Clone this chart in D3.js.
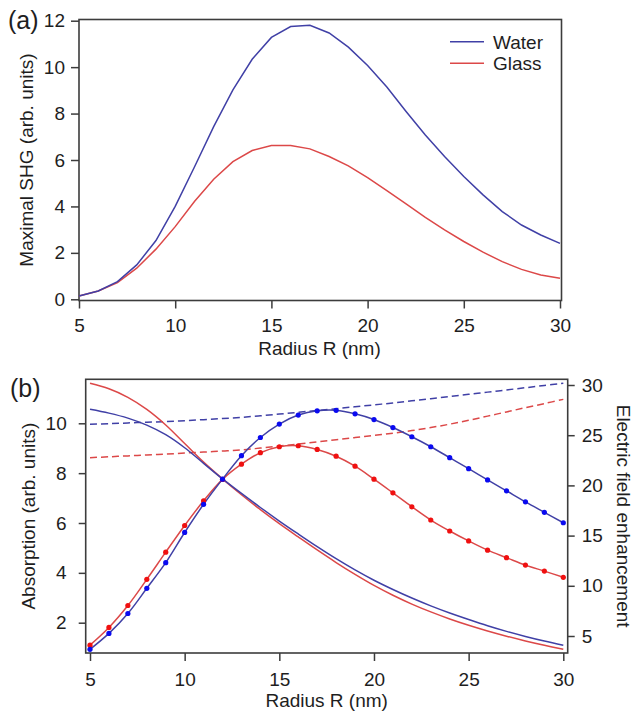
<!DOCTYPE html>
<html>
<head>
<meta charset="utf-8">
<script src="https://cdn.jsdelivr.net/npm/d3@7"></script>
<style>
  html, body { margin: 0; padding: 0; background: #fff; }
  svg { display: block; font-family: "Liberation Sans", Arial, Helvetica, sans-serif; }
</style>
</head>
<body>
<svg id="fig" width="633" height="711"></svg>
<script>
// ---- data -------------------------------------------------------------
const radiusNm = [5, 6, 7, 8, 9, 10, 11, 12, 13, 14, 15, 16, 17, 18, 19, 20, 21, 22, 23, 24, 25, 26, 27, 28, 29, 30];

// (a) maximal SHG signal
const shgWater = [0.14, 0.36, 0.76, 1.48, 2.53, 4.0, 5.7, 7.44, 9.02, 10.34, 11.28, 11.75, 11.8,
                  11.47, 10.86, 10.07, 9.14, 8.09, 7.08, 6.15, 5.29, 4.5, 3.78, 3.2, 2.77, 2.41];
const shgGlass = [0.14, 0.36, 0.72, 1.34, 2.16, 3.13, 4.21, 5.17, 5.93, 6.41, 6.62, 6.62, 6.48,
                  6.15, 5.75, 5.24, 4.68, 4.11, 3.53, 2.99, 2.49, 2.03, 1.62, 1.29, 1.05, 0.91];

// (b) absorption (left axis)
const absWater = [0.93, 1.57, 2.37, 3.38, 4.41, 5.62, 6.75, 7.76, 8.70, 9.43, 9.97, 10.33, 10.50,
                  10.52, 10.38, 10.15, 9.83, 9.46, 9.06, 8.62, 8.18, 7.73, 7.29, 6.85, 6.43, 6.01];
const absGlass = [1.10, 1.81, 2.69, 3.74, 4.83, 5.90, 6.89, 7.75, 8.36, 8.82, 9.06, 9.10, 8.95,
                  8.68, 8.28, 7.76, 7.21, 6.65, 6.12, 5.68, 5.28, 4.91, 4.61, 4.31, 4.07, 3.82];

// (b) electric field enhancement (right axis)
const fieldWater = [27.58, 27.2, 26.7, 26.0, 25.05, 23.75, 22.2, 20.65, 19.2, 17.8, 16.45, 15.16, 13.9,
                    12.7, 11.58, 10.55, 9.63, 8.78, 8.0, 7.29, 6.64, 6.02, 5.46, 4.96, 4.5, 4.08];
const fieldGlass = [30.17, 29.62, 28.77, 27.57, 26.02, 24.17, 22.32, 20.65, 19.07, 17.59, 16.19, 14.87, 13.57,
                    12.32, 11.14, 10.04, 9.06, 8.18, 7.4, 6.7, 6.07, 5.5, 4.98, 4.51, 4.08, 3.68];
const fieldOffWater = [26.09, 26.15, 26.22, 26.29, 26.36, 26.45, 26.55, 26.66, 26.78, 26.93, 27.1, 27.28, 27.46,
                       27.64, 27.83, 28.02, 28.21, 28.42, 28.63, 28.85, 29.07, 29.29, 29.51, 29.73, 29.95, 30.17];
const fieldOffGlass = [22.76, 22.85, 22.94, 23.03, 23.12, 23.22, 23.32, 23.42, 23.53, 23.72, 23.92, 24.12, 24.33,
                       24.54, 24.76, 24.98, 25.2, 25.46, 25.76, 26.1, 26.48, 26.9, 27.32, 27.74, 28.15, 28.57];

const radiusTicks = [5, 10, 15, 20, 25, 30];
const shgTicks = [0, 2, 4, 6, 8, 10, 12];
const absTicks = [2, 4, 6, 8, 10];
const fieldTicks = [5, 10, 15, 20, 25, 30];
const legendLabels = ["Water", "Glass"];

// ---- styling ----------------------------------------------------------
const AXIS = "#3c3c3c";
const TEXT = "#1e1e1e";
const BLUE_LINE = "#4040a6";
const RED_LINE = "#dc4848";
const BLUE_DOT = "#0a0af0";
const RED_DOT = "#f01010";
const FS = 19;

const svg = d3.select("#fig");

function styleAxis(g) {
  g.select(".domain").remove();
  g.selectAll(".tick line").attr("stroke", AXIS).attr("stroke-width", 1.5);
  g.selectAll(".tick text").attr("fill", TEXT).style("font-size", FS + "px");
}

function frame(x0, x1, y0, y1) {
  svg.append("rect")
    .attr("x", x0).attr("y", y0)
    .attr("width", x1 - x0).attr("height", y1 - y0)
    .attr("fill", "none").attr("stroke", AXIS).attr("stroke-width", 1.6);
}

function series(xs, ys, xScale, yScale, color, curve, dash) {
  const line = d3.line()
    .x((d, i) => xScale(xs[i]))
    .y(d => yScale(d))
    .curve(curve);
  const p = svg.append("path")
    .attr("d", line(ys))
    .attr("fill", "none")
    .attr("stroke", color)
    .attr("stroke-width", 1.5);
  if (dash) p.attr("stroke-dasharray", dash);
}

function dots(xs, ys, xScale, yScale, color) {
  svg.append("g").selectAll("circle")
    .data(ys).join("circle")
    .attr("cx", (d, i) => xScale(xs[i]))
    .attr("cy", d => yScale(d))
    .attr("r", 2.6)
    .attr("fill", color);
}

function label(text, x, y, opts = {}) {
  return svg.append("text")
    .attr("transform", `translate(${x},${y})` + (opts.rotate ? ` rotate(${opts.rotate})` : ""))
    .attr("text-anchor", opts.anchor || "start")
    .attr("fill", TEXT)
    .style("font-size", (opts.size || FS) + "px")
    .text(text);
}

// ---- panel (a) ---------------------------------------------------------
const aFrame = { left: 79, right: 561.5, top: 19.5, bottom: 300.5 };
const xA = d3.scaleLinear().domain([5, 30]).range([79, 560]);
const yA = d3.scaleLinear().domain([0, 12]).range([299.3, 20.7]);

svg.append("g")
  .attr("transform", `translate(${aFrame.left},0)`)
  .call(d3.axisLeft(yA).tickValues(shgTicks).tickSize(8).tickPadding(6))
  .call(styleAxis);
svg.append("g")
  .attr("transform", `translate(0,${aFrame.bottom})`)
  .call(d3.axisBottom(xA).tickValues(radiusTicks).tickSize(8).tickPadding(10))
  .call(styleAxis);
frame(aFrame.left, aFrame.right, aFrame.top, aFrame.bottom);

series(radiusNm, shgGlass, xA, yA, RED_LINE, d3.curveLinear);
series(radiusNm, shgWater, xA, yA, BLUE_LINE, d3.curveLinear);

// legend
[BLUE_LINE, RED_LINE].forEach((c, i) => {
  const ly = 41.7 + i * 21.6;
  svg.append("line")
    .attr("x1", 450).attr("x2", 484)
    .attr("y1", ly).attr("y2", ly)
    .attr("stroke", c).attr("stroke-width", 1.5);
  label(legendLabels[i], 493, ly + 6.8);
});

label("Maximal SHG (arb. units)", 32.5, (aFrame.top + aFrame.bottom) / 2, { rotate: -90, anchor: "middle" });
label("Radius R (nm)", (xA(5) + xA(30)) / 2, 355, { anchor: "middle" });
label("(a)", 8, 28.5, { size: 25 });

// ---- panel (b) ---------------------------------------------------------
const bFrame = { left: 85.7, right: 567.7, top: 379.3, bottom: 653 };
const xB = d3.scaleLinear().domain([5, 30]).range([90, 563.3]);
const yL = d3.scaleLinear().domain([2, 10]).range([622.7, 423.3]);
const yR = d3.scaleLinear().domain([5, 30]).range([636, 385]);

svg.append("g")
  .attr("transform", `translate(${bFrame.left},0)`)
  .call(d3.axisLeft(yL).tickValues(absTicks).tickSize(7).tickPadding(12))
  .call(styleAxis);
svg.append("g")
  .attr("transform", `translate(${bFrame.right},0)`)
  .call(d3.axisRight(yR).tickValues(fieldTicks).tickSize(7).tickPadding(7))
  .call(styleAxis);
svg.append("g")
  .attr("transform", `translate(0,${bFrame.bottom})`)
  .call(d3.axisBottom(xB).tickValues(radiusTicks).tickSize(8).tickPadding(12))
  .call(styleAxis);
frame(bFrame.left, bFrame.right, bFrame.top, bFrame.bottom);

const smooth = d3.curveCatmullRom.alpha(0.5);
series(radiusNm, fieldOffGlass, xB, yR, RED_LINE, smooth, "7,4");
series(radiusNm, fieldOffWater, xB, yR, BLUE_LINE, smooth, "7,4");
series(radiusNm, fieldGlass, xB, yR, RED_LINE, smooth);
series(radiusNm, fieldWater, xB, yR, BLUE_LINE, smooth);
series(radiusNm, absGlass, xB, yL, RED_LINE, smooth);
series(radiusNm, absWater, xB, yL, BLUE_LINE, smooth);
dots(radiusNm, absGlass, xB, yL, RED_DOT);
dots(radiusNm, absWater, xB, yL, BLUE_DOT);

label("Absorption (arb. units)", 35.3, (bFrame.top + bFrame.bottom) / 2, { rotate: -90, anchor: "middle" });
label("Electric field enhancement", 616.7, (bFrame.top + bFrame.bottom) / 2, { rotate: 90, anchor: "middle" });
label("Radius R (nm)", (xB(5) + xB(30)) / 2, 706.6, { anchor: "middle" });
label("(b)", 10, 396.7, { size: 25 });
</script>
</body>
</html>
